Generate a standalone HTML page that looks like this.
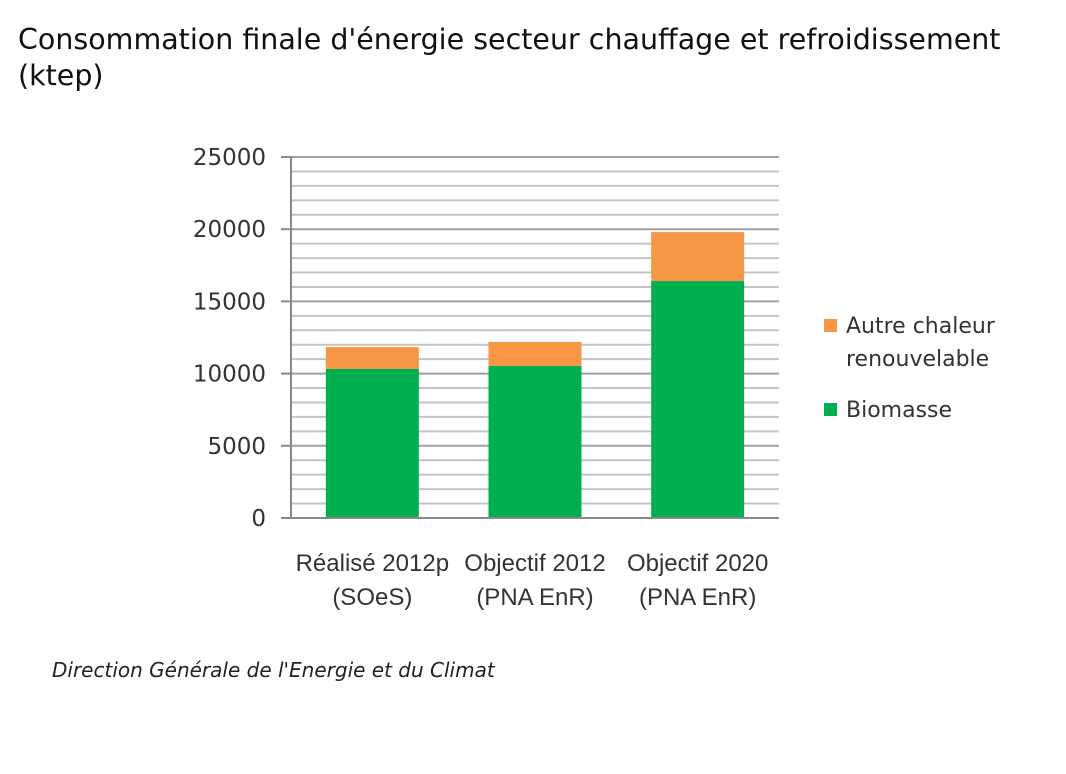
<!DOCTYPE html>
<html><head><meta charset="utf-8"><style>
body{margin:0;width:1066px;height:769px;background:#fff;overflow:hidden;font-family:"Liberation Sans","DejaVu Sans",sans-serif}
</style></head><body>
<svg width="1066" height="769" xmlns="http://www.w3.org/2000/svg">
<text x="18" y="49" font-family="DejaVu Sans, sans-serif" font-size="28.5" fill="#111">Consommation finale d'énergie secteur chauffage et refroidissement</text>
<text x="18" y="85" font-family="DejaVu Sans, sans-serif" font-size="28.5" fill="#111">(ktep)</text>
<g id="grid"></g><g id="bars"></g><g id="axes"></g>
<g>
<rect x="824" y="319" width="13" height="13" fill="#f79646"/>
<text x="846" y="333" font-size="22" fill="#333" font-family="DejaVu Sans, sans-serif">Autre chaleur</text>
<text x="846" y="366" font-size="22" fill="#333" font-family="DejaVu Sans, sans-serif">renouvelable</text>
<rect x="824" y="403" width="13" height="13" fill="#00b050"/>
<text x="846" y="417" font-size="22" fill="#333" font-family="DejaVu Sans, sans-serif">Biomasse</text>
</g>
<text x="52" y="677" font-size="20" font-style="italic" fill="#222" font-family="DejaVu Sans, sans-serif">Direction Générale de l'Energie et du Climat</text>
</svg>
<script>
const categories1=["Réalisé 2012p","Objectif 2012","Objectif 2020"];
const categories2=["(SOeS)","(PNA EnR)","(PNA EnR)"];
const biomasse=[10320,10530,16410];
const autre=[1520,1660,3390];
const yTicks=[0,5000,10000,15000,20000,25000];
const NS="http://www.w3.org/2000/svg";
const x0=291,x1=779,yb=518,yt=157,ymax=25000;
const y=v=>yb-(v/ymax)*(yb-yt);
const slot=(x1-x0)/categories1.length;
const bw=93;
const cx=i=>x0+slot*(i+0.5);
function mk(tag,attrs,parent){const e=document.createElementNS(NS,tag);for(const k in attrs)e.setAttribute(k,attrs[k]);document.getElementById(parent).appendChild(e);return e;}
for(let v=1000;v<=ymax;v+=1000){
 const l=mk("line",{x1:x0,x2:x1,y1:y(v),y2:y(v),stroke:v%5000?"#c4c4c4":"#a0a0a0","stroke-width":2},"grid");
 
 
}
biomasse.forEach((b,i)=>{
 const g=mk("rect",{x:cx(i)-bw/2,y:y(b),width:bw,height:yb-y(b),fill:"#00b050"},"bars");
 
 
 const o=mk("rect",{x:cx(i)-bw/2,y:y(b+autre[i]),width:bw,height:y(b)-y(b+autre[i]),fill:"#f79646"},"bars");
 
 
 const t1=mk("text",{x:cx(i),y:571,"text-anchor":"middle","font-size":24,fill:"#333"},"axes");
 t1.textContent=categories1[i];
 
 
 const t2=mk("text",{x:cx(i),y:605,"text-anchor":"middle","font-size":24,fill:"#333"},"axes");
 t2.textContent=categories2[i];
 
 
});
const ax=mk("line",{x1:x0,x2:x0,y1:yt,y2:yb,stroke:"#888","stroke-width":2},"axes");


const bx=mk("line",{x1:x0-10,x2:x1,y1:yb,y2:yb,stroke:"#888","stroke-width":2},"axes");


yTicks.forEach(v=>{
 const tk=mk("line",{x1:x0-10,x2:x0,y1:y(v),y2:y(v),stroke:"#888","stroke-width":2},"axes");
 
 
 const t=mk("text",{x:266,y:y(v)+8,"text-anchor":"end","font-size":23,"font-family":"DejaVu Sans, sans-serif",fill:"#333"},"axes");
 t.textContent=v;
 
 
});
</script>
</body></html>
